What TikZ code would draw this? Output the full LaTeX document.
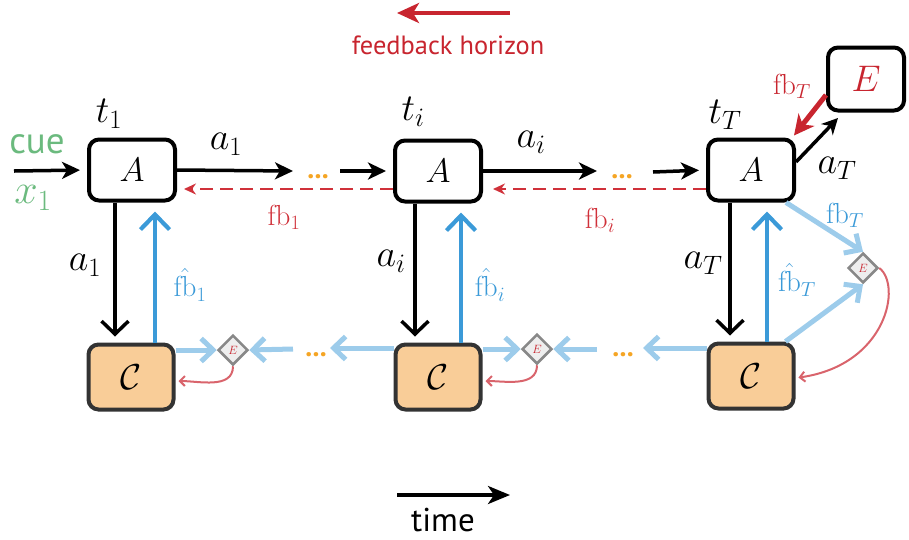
\RequirePackage{fix-cm}
\documentclass[tikz,border=0pt]{standalone}
\usepackage{fontspec}
\setsansfont{PT Sans}
\usetikzlibrary{arrows.meta,shapes.geometric}
\definecolor{cblue}{HTML}{3B9AD8}
\definecolor{clblue}{HTML}{9DCCEB}
\definecolor{cred}{HTML}{C8252F}
\definecolor{cdred}{HTML}{D0313A}
\definecolor{clred}{HTML}{D9646C}
\definecolor{corange}{HTML}{F9CD98}
\definecolor{cborder}{HTML}{333333}
\definecolor{cdots}{HTML}{F5A524}
\definecolor{cgreen}{HTML}{6BBA7E}
\definecolor{cdgray}{HTML}{888888}
\definecolor{cdfill}{HTML}{EEEEEE}
\tikzset{
  abox/.style={draw=black, fill=white, line width=4pt, rounded corners=10pt,
    minimum width=86pt, minimum height=61pt, inner sep=0pt, font=\fontsize{34}{34}\selectfont},
  ebox/.style={abox, minimum width=76pt, minimum height=63pt, text=cred, font=\fontsize{37}{37}\selectfont},
  cbox/.style={draw=cborder, fill=corange, line width=4pt, rounded corners=10pt,
    minimum width=85pt, minimum height=65pt, inner sep=0pt, font=\fontsize{36}{36}\selectfont},
  dia/.style={diamond, draw=cdgray, fill=cdfill, line width=2.5pt, minimum width=30pt,
    minimum height=30pt, inner sep=0pt, text=cred, font=\fontsize{12}{12}\selectfont},
  lbl/.style={inner sep=0pt, font=\fontsize{38}{38}\selectfont},
  fbl/.style={inner sep=0pt, font=\fontsize{29}{29}\selectfont},
  sans/.style={inner sep=0pt, font=\sffamily\fontsize{37}{37}\selectfont},
  dots/.style={inner sep=0pt, text=cdots, font=\sffamily\bfseries\fontsize{28}{28}\selectfont},
  blk/.style={draw=black, line width=3.5pt, -{Stealth[length=18pt,width=17pt,inset=5pt]}},
  blkdown/.style={draw=black, line width=3.5pt, -{Straight Barb[length=13pt,width=27pt]}},
  bup/.style={draw=cblue, line width=4.2pt, -{Straight Barb[length=15pt,width=29pt]}},
  lb/.style={draw=clblue, line width=5pt, -{Straight Barb[length=12pt,width=23pt]}},
  rdash/.style={draw=cdred, line width=2.8pt, dash pattern=on 13pt off 7pt, -{Stealth[length=12pt,width=11pt]}},
  rcurve/.style={draw=clred, line width=2pt, -{Straight Barb[length=5pt,width=10pt]}},
  rthick/.style={draw=cred, line width=5pt, -{Stealth[length=20pt,width=20pt,inset=6pt]}},
}
\begin{document}
\begin{tikzpicture}[x=1pt,y=1pt]
\useasboundingbox (0,0) rectangle (909,-539);

% boxes
\node[abox] (A1) at (132,-170) {$A$};
\node[abox] (Ai) at (438,-171) {$A$};
\node[abox] (AT) at (751,-170) {$A$};
\node[ebox] (E) at (866,-79) {$E$};
\node[cbox] (C1) at (131,-377) {$\mathcal{C}$};
\node[cbox] (Ci) at (438,-377) {$\mathcal{C}$};
\node[cbox] (CT) at (751,-376) {$\mathcal{C}$};
\node[dia] (D1) at (233,-350) {$E$};
\node[dia] (Di) at (537,-349) {$E$};
\node[dia] (DT) at (863,-268) {$E$};

% free ends
\coordinate (in1) at (14,-171);
\coordinate (o1) at (293,-171);
\coordinate (ini) at (340,-171);
\coordinate (oi) at (597,-171);
\coordinate (inT) at (653,-172);
\coordinate (aT) at (838,-118);
\coordinate (lb1) at (293,-349);
\coordinate (lbi) at (597,-349);
\coordinate (lbo) at (330,-348);
\coordinate (lbT) at (643,-348);
\coordinate (fh1) at (510,-13);
\coordinate (fh2) at (397,-13);
\coordinate (tm1) at (397,-495);
\coordinate (tm2) at (510,-495);

% top row arrows
\draw[blk, shorten >=7pt] (in1) -- (A1.west);
\draw[blk] (A1.east) -- (o1);
\draw[blk, shorten >=7pt] (ini) -- (Ai.west);
\draw[blk] (Ai.east) -- (oi);
\draw[blk, shorten >=7pt] (inT) -- (AT.west);

% feedback dashed
\draw[rdash, shorten >=7pt] ([yshift=-18pt]Ai.west) -- ([yshift=-19pt]A1.east);
\draw[rdash, shorten >=10pt] ([yshift=-19pt]AT.west) -- ([yshift=-18pt]Ai.east);

% vertical arrows
\draw[blkdown, shorten >=6pt] ([xshift=-17pt]A1.south) -- ([xshift=-16pt]C1.north);
\draw[bup, shorten >=9pt] ([xshift=24pt]C1.north) -- ([xshift=23pt]A1.south);
\draw[blkdown, shorten >=6pt] ([xshift=-23pt]Ai.south) -- ([xshift=-23pt]Ci.north);
\draw[bup, shorten >=9pt] ([xshift=23pt]Ci.north) -- ([xshift=23pt]Ai.south);
\draw[blkdown, shorten >=6pt] ([xshift=-21pt]AT.south) -- ([xshift=-21pt]CT.north);
\draw[bup, shorten >=9pt] ([xshift=16pt]CT.north) -- ([xshift=16pt]AT.south);

% light blue critic arrows
\draw[lb] (C1.east |- D1.west) -- (D1.west);
\draw[lb] (lb1) -- (D1.east);
\draw[lb] (Ci.east |- Di.west) -- (Di.west);
\draw[lb] (lbi) -- (Di.east);
\draw[lb] (Ci.west |- lbo) -- (lbo);
\draw[lb] (CT.west |- lbT) -- (lbT);
\draw[lb] ([xshift=-10pt]AT.south east) -- (DT.north);
\draw[lb] ([xshift=-10pt]CT.north east) -- (DT.south);

% red evaluation curves
\draw[rcurve, shorten >=3pt] (D1.south) to[out=-90,in=0] ([yshift=-4pt]C1.east);
\draw[rcurve, shorten >=3pt] (Di.south) to[out=-90,in=0] ([yshift=-4pt]Ci.east);
\draw[rcurve, shorten >=3pt] (DT.east) .. controls (902,-285) and (887,-365) .. ([yshift=-2pt]CT.east);

% final step
\draw[blk, -{Stealth[length=16pt,width=16pt,inset=5pt]}] ([yshift=8pt]AT.east) -- (aT);
\draw[rthick] ([yshift=-16pt]E.west) -- ([xshift=-2pt,yshift=2pt]AT.north east);

% dots
\node[dots] at (318,-177) {...};
\node[dots] at (622,-177) {...};
\node[dots] at (316,-355) {...};
\node[dots] at (623,-355) {...};

% labels
\node[sans, text=cgreen] at (37,-144) {cue};
\node[inner sep=0pt, font=\fontsize{42}{42}\selectfont, text=cgreen] at (33,-198) {$x_1$};
\node[lbl] at (109,-114) {$t_1$};
\node[lbl] at (413,-112) {$t_i$};
\node[lbl] at (725,-115) {$t_T$};
\node[lbl] at (226,-144) {$a_1$};
\node[lbl] at (531,-142) {$a_i$};
\node[lbl] at (837,-168) {$a_T$};
\node[lbl] at (85,-265) {$a_1$};
\node[lbl] at (391,-261) {$a_i$};
\node[lbl] at (703,-263) {$a_T$};
\node[fbl, text=cdred] at (284,-217) {$\mathrm{fb}_1$};
\node[fbl, text=cdred] at (600,-220) {$\mathrm{fb}_i$};
\node[fbl, text=cred] at (792,-86) {$\mathrm{fb}_T$};
\node[fbl, text=cblue] at (190,-285) {$\hat{\mathrm{fb}}_1$};
\node[fbl, text=cblue] at (490,-285) {$\hat{\mathrm{fb}}_i$};
\node[fbl, text=cblue] at (797,-280) {$\hat{\mathrm{fb}}_T$};
\node[fbl, text=cblue] at (845,-215) {$\mathrm{fb}_T$};

% legend arrows
\draw[draw=cred, line width=4pt, -{Stealth[length=22pt,width=20pt,inset=6pt]}] (fh1) -- (fh2);
\node[inner sep=0pt, text=cred, font=\sffamily\fontsize{26.4}{26.4}\selectfont] at (448,-45) {feedback horizon};
\draw[draw=black, line width=3.5pt, -{Stealth[length=22pt,width=18pt,inset=6pt]}] (tm1) -- (tm2);
\node[inner sep=0pt, anchor=base, text=black, font=\sffamily\fontsize{33}{33}\selectfont] at (443,-531) {time};
\end{tikzpicture}
\end{document}
